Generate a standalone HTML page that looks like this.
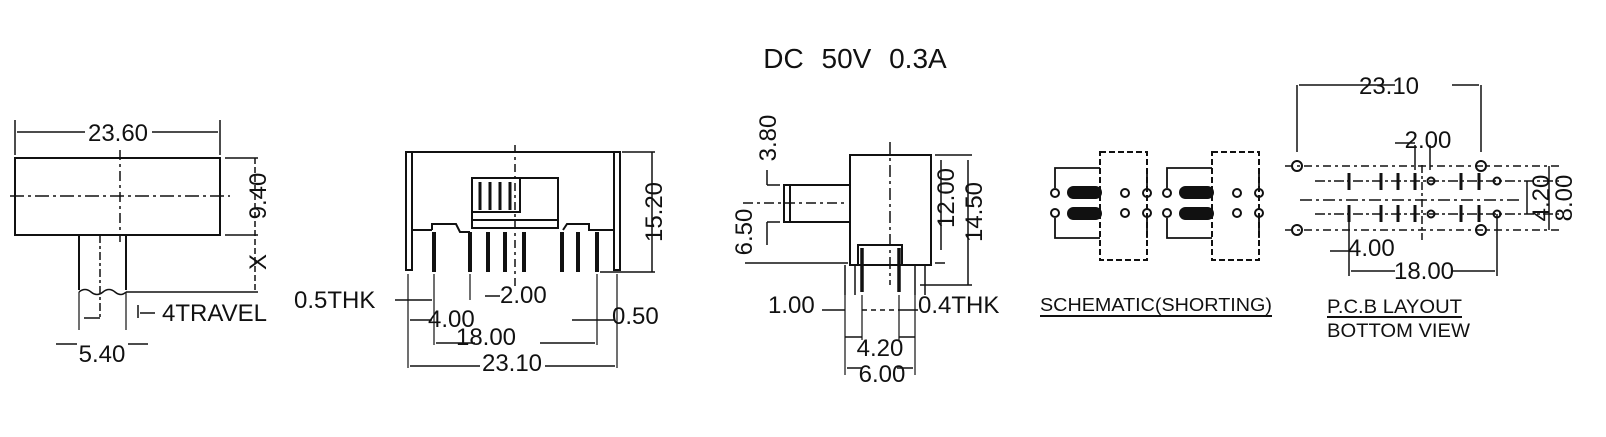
<!DOCTYPE html>
<html><head><meta charset="utf-8"><style>
html,body{margin:0;padding:0;background:#fff;}
svg{display:block;}
text{font-family:"Liberation Sans",sans-serif;fill:#111;}
</style></head><body>
<svg width="1606" height="437" viewBox="0 0 1606 437" xmlns="http://www.w3.org/2000/svg">
<text x="855" y="68" font-size="28" text-anchor="middle" word-spacing="10">DC 50V 0.3A</text>

<!-- VIEW 1 -->
<g stroke="#111" fill="none" stroke-width="2">
<rect x="15" y="158" width="205" height="77"/>
<line x1="15" y1="120" x2="15" y2="155" stroke-width="1.5"/>
<line x1="220" y1="120" x2="220" y2="155" stroke-width="1.5"/>
<line x1="17" y1="132" x2="85" y2="132" stroke-width="1.5"/>
<line x1="152" y1="132" x2="218" y2="132" stroke-width="1.5"/>
<line x1="10" y1="196" x2="230" y2="196" stroke-dasharray="14,4,3,4" stroke-width="1.5"/>
<line x1="120" y1="150" x2="120" y2="242" stroke-dasharray="10,4,3,4" stroke-width="1.5"/>
<line x1="79" y1="235" x2="79" y2="290"/>
<line x1="126" y1="235" x2="126" y2="290"/>
<line x1="100" y1="235" x2="100" y2="320" stroke-dasharray="8,3,3,3" stroke-width="1.5"/>
<path d="M79 292 q6 -5 12 0 t12 0 t12 0 t11 0" stroke-width="1.5"/>
<line x1="225" y1="158" x2="258" y2="158" stroke-width="1.5"/>
<line x1="225" y1="235" x2="258" y2="235" stroke-width="1.5"/>
<line x1="126" y1="292" x2="258" y2="292" stroke-width="1.5"/>
<line x1="255" y1="158" x2="255" y2="292" stroke-dasharray="6,3" stroke-width="1.5"/>
<line x1="79" y1="292" x2="79" y2="330" stroke-width="1.2"/>
<line x1="126" y1="292" x2="126" y2="330" stroke-width="1.2"/>
<line x1="84" y1="318" x2="100" y2="318" stroke-width="1.5"/>
<line x1="138" y1="305" x2="138" y2="318" stroke-width="1.5"/>
<line x1="140" y1="313" x2="155" y2="313" stroke-width="1.5"/>
<line x1="56" y1="344" x2="77" y2="344" stroke-width="1.5"/>
<line x1="128" y1="344" x2="148" y2="344" stroke-width="1.5"/>
</g>
<text x="118" y="141" font-size="24" text-anchor="middle">23.60</text>
<text transform="translate(266,196) rotate(-90)" font-size="24" text-anchor="middle">9.40</text>
<text transform="translate(266,262) rotate(-90)" font-size="24" text-anchor="middle">X</text>
<text x="162" y="321" font-size="24">4TRAVEL</text>
<text x="102" y="362" font-size="24" text-anchor="middle">5.40</text>

<!-- VIEW 2 -->
<g stroke="#111" fill="none" stroke-width="2">
<line x1="408" y1="152" x2="620" y2="152"/>
<rect x="406" y="152" width="6" height="118"/>
<rect x="614" y="152" width="6" height="118"/>
<line x1="412" y1="230" x2="432" y2="230"/>
<path d="M432 230 v-6 h24 l4 8 h10" />
<path d="M563 230 l4 -6 h22 v6 h25"/>
<rect x="472" y="178" width="86" height="50"/>
<rect x="472" y="178" width="48" height="34" fill="#fff"/>
<g stroke-width="3"><line x1="480" y1="182" x2="480" y2="210"/><line x1="490" y1="182" x2="490" y2="210"/><line x1="500" y1="182" x2="500" y2="210"/><line x1="510" y1="182" x2="510" y2="210"/></g>
<line x1="472" y1="220" x2="558" y2="220"/>
<line x1="515" y1="145" x2="515" y2="290" stroke-dasharray="8,4,3,4" stroke-width="1.5"/>
<g stroke-width="4">
<line x1="434" y1="232" x2="434" y2="272"/><line x1="470" y1="232" x2="470" y2="272"/>
<line x1="488" y1="232" x2="488" y2="272"/><line x1="505" y1="232" x2="505" y2="272"/>
<line x1="524" y1="232" x2="524" y2="272"/><line x1="562" y1="232" x2="562" y2="272"/>
<line x1="578" y1="232" x2="578" y2="272"/><line x1="597" y1="232" x2="597" y2="272"/>
</g>
<line x1="622" y1="152" x2="655" y2="152" stroke-width="1.5"/>
<line x1="600" y1="272" x2="655" y2="272" stroke-width="1.5"/>
<line x1="652" y1="152" x2="652" y2="272" stroke-width="1.5"/>
<line x1="408" y1="274" x2="408" y2="368" stroke-width="1.2"/>
<line x1="617" y1="274" x2="617" y2="368" stroke-width="1.2"/>
<line x1="434" y1="274" x2="434" y2="345" stroke-width="1.2"/>
<line x1="597" y1="274" x2="597" y2="345" stroke-width="1.2"/>
<line x1="470" y1="274" x2="470" y2="300" stroke-width="1.2"/>
<line x1="395" y1="300" x2="432" y2="300" stroke-width="1.5"/>
<line x1="485" y1="296" x2="500" y2="296" stroke-width="1.5"/>
<line x1="410" y1="320" x2="432" y2="320" stroke-width="1.5"/>
<line x1="572" y1="320" x2="615" y2="320" stroke-width="1.5"/>
<line x1="436" y1="343" x2="475" y2="343" stroke-width="1.5"/>
<line x1="540" y1="343" x2="595" y2="343" stroke-width="1.5"/>
<line x1="410" y1="366" x2="480" y2="366" stroke-width="1.5"/>
<line x1="545" y1="366" x2="615" y2="366" stroke-width="1.5"/>
</g>
<text transform="translate(662,212) rotate(-90)" font-size="24" text-anchor="middle">15.20</text>
<text x="294" y="308" font-size="24">0.5THK</text>
<text x="500" y="303" font-size="24">2.00</text>
<text x="428" y="327" font-size="24">4.00</text>
<text x="486" y="345" font-size="24" text-anchor="middle">18.00</text>
<text x="512" y="371" font-size="24" text-anchor="middle">23.10</text>
<text x="612" y="324" font-size="24">0.50</text>

<!-- VIEW 3 -->
<g stroke="#111" fill="none" stroke-width="2">
<rect x="850" y="155" width="81" height="110"/>
<rect x="784" y="185" width="66" height="37"/>
<line x1="790" y1="185" x2="790" y2="222"/>
<line x1="743" y1="203" x2="845" y2="203" stroke-dasharray="10,4,3,4" stroke-width="1.5"/>
<line x1="890" y1="142" x2="890" y2="285" stroke-dasharray="12,4,3,4" stroke-width="1.5"/>
<path d="M858 265 v-20 h44 v20" />
<g stroke-width="3.5"><line x1="862" y1="248" x2="862" y2="292"/><line x1="899" y1="248" x2="899" y2="292"/></g>
<path d="M845 265 v30 M855 265 v30 M925 265 v30 M915 265 v30" stroke-width="1.5"/>
<line x1="767" y1="185" x2="780" y2="185" stroke-width="1.5"/>
<line x1="767" y1="170" x2="767" y2="185" stroke-width="1.5"/>
<line x1="767" y1="222" x2="780" y2="222" stroke-width="1.5"/>
<line x1="767" y1="222" x2="767" y2="245" stroke-width="1.5"/>
<line x1="745" y1="263" x2="848" y2="263" stroke-width="1.5"/>
<line x1="935" y1="155" x2="972" y2="155" stroke-width="1.5"/>
<line x1="935" y1="263" x2="945" y2="263" stroke-width="1.5"/>
<line x1="941" y1="160" x2="941" y2="250" stroke-width="1.5"/>
<line x1="920" y1="285" x2="972" y2="285" stroke-width="1.5"/>
<line x1="968" y1="160" x2="968" y2="285" stroke-width="1.5"/>
<line x1="822" y1="310" x2="845" y2="310" stroke-width="1.5"/>
<line x1="862" y1="310" x2="899" y2="310" stroke-dasharray="5,4" stroke-width="1.5"/>
<line x1="899" y1="310" x2="918" y2="310" stroke-width="1.5"/>
<line x1="845" y1="295" x2="845" y2="375" stroke-width="1.2"/>
<line x1="915" y1="295" x2="915" y2="375" stroke-width="1.2"/>
<line x1="862" y1="295" x2="862" y2="340" stroke-width="1.2"/>
<line x1="899" y1="295" x2="899" y2="340" stroke-width="1.2"/>
<line x1="845" y1="337" x2="862" y2="337" stroke-width="1.5"/>
<line x1="899" y1="337" x2="915" y2="337" stroke-width="1.5"/>
<line x1="847" y1="368" x2="862" y2="368" stroke-width="1.5"/>
<line x1="897" y1="368" x2="913" y2="368" stroke-width="1.5"/>
</g>
<text transform="translate(776,138) rotate(-90)" font-size="24" text-anchor="middle">3.80</text>
<text transform="translate(752,232) rotate(-90)" font-size="24" text-anchor="middle">6.50</text>
<text transform="translate(954,198) rotate(-90)" font-size="24" text-anchor="middle">12.00</text>
<text transform="translate(982,212) rotate(-90)" font-size="24" text-anchor="middle">14.50</text>
<text x="768" y="313" font-size="24">1.00</text>
<text x="918" y="313" font-size="24">0.4THK</text>
<text x="880" y="356" font-size="24" text-anchor="middle">4.20</text>
<text x="882" y="382" font-size="24" text-anchor="middle">6.00</text>

<!-- SCHEMATIC -->
<g stroke="#111" fill="none" stroke-width="2">
<g>
<rect x="1100" y="152" width="47" height="108" stroke-dasharray="6,3"/>
<path d="M1055 188 v-20 h45 M1055 218 v20 h45" stroke-width="1.8"/>
<line x1="1147" y1="168" x2="1147" y2="188" stroke-width="1.8"/>
<line x1="1147" y1="218" x2="1147" y2="238" stroke-width="1.8"/>
<circle cx="1055" cy="193" r="4"/><circle cx="1055" cy="213" r="4"/>
<rect x="1068" y="187" width="33" height="11" rx="5.5" fill="#111"/>
<rect x="1068" y="208" width="33" height="11" rx="5.5" fill="#111"/>
<circle cx="1125" cy="193" r="4"/><circle cx="1125" cy="213" r="4"/>
<circle cx="1147" cy="193" r="4"/><circle cx="1147" cy="213" r="4"/>
</g>
<g transform="translate(112,0)">
<rect x="1100" y="152" width="47" height="108" stroke-dasharray="6,3"/>
<path d="M1055 188 v-20 h45 M1055 218 v20 h45" stroke-width="1.8"/>
<line x1="1147" y1="168" x2="1147" y2="188" stroke-width="1.8"/>
<line x1="1147" y1="218" x2="1147" y2="238" stroke-width="1.8"/>
<circle cx="1055" cy="193" r="4"/><circle cx="1055" cy="213" r="4"/>
<rect x="1068" y="187" width="33" height="11" rx="5.5" fill="#111"/>
<rect x="1068" y="208" width="33" height="11" rx="5.5" fill="#111"/>
<circle cx="1125" cy="193" r="4"/><circle cx="1125" cy="213" r="4"/>
<circle cx="1147" cy="193" r="4"/><circle cx="1147" cy="213" r="4"/>
</g>
<line x1="1040" y1="316" x2="1272" y2="316" stroke-width="2"/>
</g>
<text x="1040" y="311" font-size="18" textLength="232" lengthAdjust="spacingAndGlyphs">SCHEMATIC(SHORTING)</text>

<!-- PCB -->
<g stroke="#111" fill="none" stroke-width="1.5">
<line x1="1297" y1="85" x2="1297" y2="152"/>
<line x1="1481" y1="85" x2="1481" y2="152"/>
<line x1="1299" y1="85" x2="1395" y2="85"/>
<line x1="1452" y1="85" x2="1479" y2="85"/>
<line x1="1395" y1="143" x2="1415" y2="143"/>
<line x1="1415" y1="145" x2="1415" y2="170"/><line x1="1430" y1="145" x2="1430" y2="170"/>
<line x1="1300" y1="200" x2="1520" y2="200" stroke-dasharray="12,4,3,4"/>
<line x1="1315" y1="181" x2="1560" y2="181" stroke-dasharray="10,3,3,3"/>
<line x1="1315" y1="214" x2="1560" y2="214" stroke-dasharray="10,3,3,3"/>
<line x1="1285" y1="166" x2="1560" y2="166" stroke-dasharray="8,4,3,4"/>
<line x1="1285" y1="230" x2="1560" y2="230" stroke-dasharray="8,4,3,4"/>
<line x1="1422" y1="165" x2="1422" y2="240" stroke-dasharray="8,3,3,3"/>
<line x1="1549" y1="166" x2="1549" y2="230"/>
<line x1="1527" y1="181" x2="1527" y2="214"/>
<line x1="1349" y1="214" x2="1349" y2="276"/>
<line x1="1497" y1="214" x2="1497" y2="276"/>
<line x1="1330" y1="251" x2="1349" y2="251"/>
<line x1="1351" y1="271" x2="1395" y2="271"/>
<line x1="1452" y1="271" x2="1495" y2="271"/>
<line x1="1327" y1="317" x2="1462" y2="317" stroke-width="2"/>
</g>
<g stroke="#111" fill="none" stroke-width="2">
<circle cx="1297" cy="166" r="5"/><circle cx="1481" cy="166" r="5"/>
<circle cx="1297" cy="230" r="5"/><circle cx="1481" cy="230" r="5"/>
<g stroke-width="3">
<line x1="1349" y1="173" x2="1349" y2="190"/><line x1="1381" y1="173" x2="1381" y2="190"/><line x1="1398" y1="173" x2="1398" y2="190"/><line x1="1415" y1="173" x2="1415" y2="190"/><line x1="1461" y1="173" x2="1461" y2="190"/><line x1="1479" y1="173" x2="1479" y2="190"/>
<line x1="1349" y1="205" x2="1349" y2="222"/><line x1="1381" y1="205" x2="1381" y2="222"/><line x1="1398" y1="205" x2="1398" y2="222"/><line x1="1415" y1="205" x2="1415" y2="222"/><line x1="1461" y1="205" x2="1461" y2="222"/><line x1="1479" y1="205" x2="1479" y2="222"/>
</g>
<circle cx="1431" cy="181" r="3.5"/><circle cx="1497" cy="181" r="3.5"/>
<circle cx="1431" cy="214" r="3.5"/><circle cx="1497" cy="214" r="3.5"/>
</g>
<text x="1389" y="94" font-size="24" text-anchor="middle">23.10</text>
<text x="1428" y="148" font-size="24" text-anchor="middle">2.00</text>
<text transform="translate(1549,198) rotate(-90)" font-size="24" text-anchor="middle">4.20</text>
<text transform="translate(1572,198) rotate(-90)" font-size="24" text-anchor="middle">8.00</text>
<text x="1348" y="256" font-size="24">4.00</text>
<text x="1424" y="279" font-size="24" text-anchor="middle">18.00</text>
<text x="1327" y="313" font-size="19" textLength="135" lengthAdjust="spacingAndGlyphs">P.C.B LAYOUT</text>
<text x="1327" y="337" font-size="19" textLength="143" lengthAdjust="spacingAndGlyphs">BOTTOM VIEW</text>
</svg>
</body></html>
